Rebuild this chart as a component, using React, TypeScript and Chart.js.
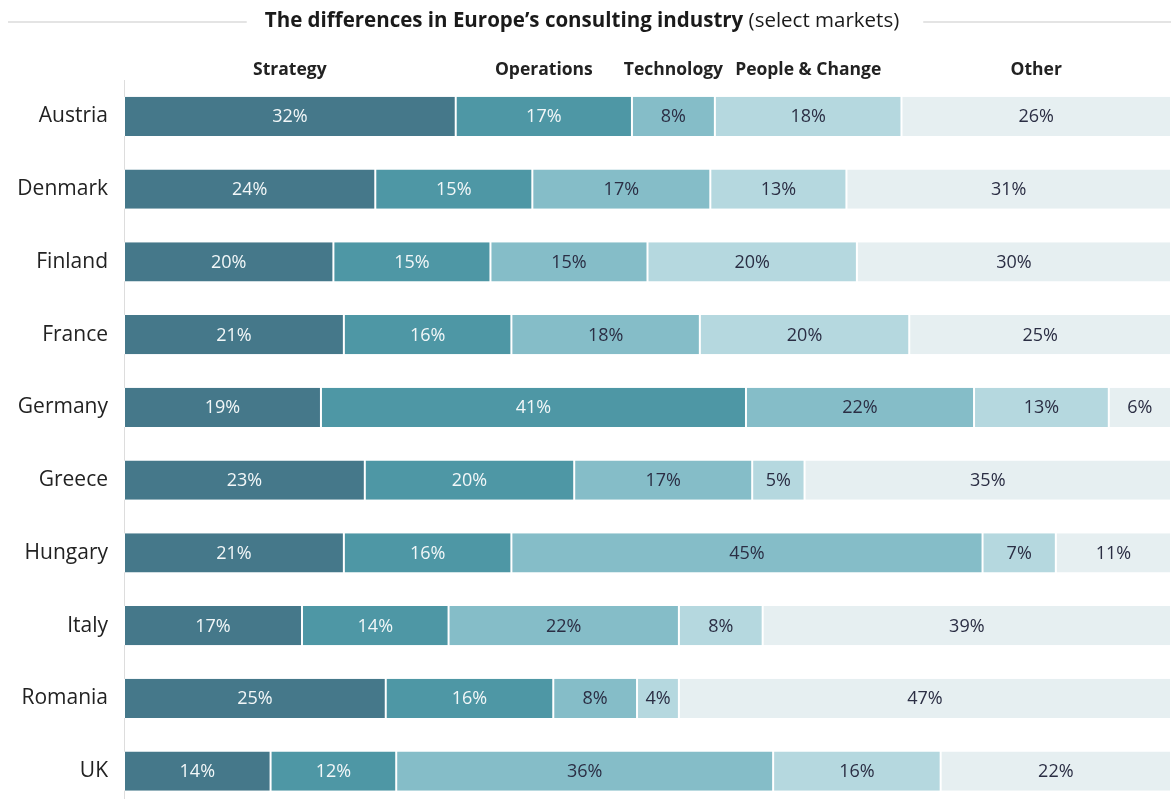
import React, { useEffect, useRef } from "react";
import { Chart, registerables } from "chart.js";

Chart.register(...registerables);

const categories = ["Austria", "Denmark", "Finland", "France", "Germany", "Greece", "Hungary", "Italy", "Romania", "UK"];
const seriesNames = ["Strategy", "Operations", "Technology", "People & Change", "Other"];
const strategy = [32, 24, 20, 21, 19, 23, 21, 17, 25, 14];
const operations = [17, 15, 15, 16, 41, 20, 16, 14, 16, 12];
const technology = [8, 17, 15, 18, 22, 17, 45, 22, 8, 36];
const peopleChange = [18, 13, 20, 20, 13, 5, 7, 8, 4, 16];
const other = [26, 31, 30, 25, 6, 35, 11, 39, 47, 22];
const titleBold = "The differences in Europe\u2019s consulting industry";
const titleNormal = " (select markets)";

const seriesValues = [strategy, operations, technology, peopleChange, other];
const colors = ["#45788a", "#4e97a5", "#85bdc8", "#b5d8df", "#e6eff1"];
const labelColors = ["#f2f7f8", "#f2f7f8", "#2b2e44", "#2b2e44", "#2b2e44"];
const FONT = "'Open Sans', sans-serif";

const overlayPlugin = {
  id: "overlay",
  afterDatasetsDraw(chart: any) {
    const ctx = chart.ctx;
    ctx.save();
    ctx.textBaseline = "middle";
    ctx.textAlign = "center";
    chart.data.datasets.forEach((ds: any, i: number) => {
      const meta = chart.getDatasetMeta(i);
      meta.data.forEach((el: any, j: number) => {
        const x = (el.x + el.base) / 2;
        ctx.fillStyle = labelColors[i];
        ctx.font = `400 18px ${FONT}`;
        ctx.fillText(ds.rawValues[j] + "%", x, el.y + 1);
      });
    });
    chart.data.datasets.forEach((ds: any, i: number) => {
      const el = chart.getDatasetMeta(i).data[0];
      const x = (el.x + el.base) / 2;
      ctx.fillStyle = "#222";
      ctx.font = `700 17.5px ${FONT}`;
      ctx.fillText(ds.label, x, 70);
    });
    const cx = 582;
    const ty = 21;
    ctx.font = `700 20.5px ${FONT}`;
    const wb = ctx.measureText(titleBold).width;
    ctx.font = `400 20.5px ${FONT}`;
    const wn = ctx.measureText(titleNormal).width;
    const start = cx - (wb + wn) / 2;
    ctx.textAlign = "left";
    ctx.fillStyle = "#1a1a1a";
    ctx.font = `700 20.5px ${FONT}`;
    ctx.fillText(titleBold, start, ty);
    ctx.font = `400 20.5px ${FONT}`;
    ctx.fillText(titleNormal, start + wb, ty);
    ctx.strokeStyle = "#dcdcdc";
    ctx.lineWidth = 1.5;
    ctx.beginPath();
    ctx.moveTo(8, ty + 1);
    ctx.lineTo(start - 18, ty + 1);
    ctx.moveTo(start + wb + wn + 24, ty + 1);
    ctx.lineTo(chart.width, ty + 1);
    ctx.stroke();
    ctx.restore();
  },
};

export default function App() {
  const ref = useRef<HTMLCanvasElement | null>(null);
  useEffect(() => {
    if (!ref.current) return;
    const totals = categories.map((_, j) => seriesValues.reduce((s, arr) => s + arr[j], 0));
    const chart = new Chart(ref.current, {
      type: "bar",
      data: {
        labels: categories,
        datasets: seriesNames.map((name, i) => ({
          label: name,
          data: seriesValues[i].map((v, j) => (v / totals[j]) * 100),
          rawValues: seriesValues[i],
          backgroundColor: colors[i],
          borderColor: "#ffffff",
          borderWidth: { left: 1, right: 1, top: 0, bottom: 0 },
          borderSkipped: false,
          barPercentage: 0.54,
          categoryPercentage: 1,
        })) as any,
      },
      options: {
        indexAxis: "y",
        animation: false,
        responsive: true,
        maintainAspectRatio: false,
        layout: { padding: { top: 80, bottom: 3, left: 0, right: 0 } },
        plugins: { legend: { display: false }, tooltip: { enabled: false }, title: { display: false } },
        scales: {
          x: { stacked: true, min: 0, max: 100, display: false },
          y: {
            stacked: true,
            grid: { display: false },
            border: { display: true, color: "#dddddd", width: 1 },
            ticks: { color: "#222", font: { family: FONT, size: 21 }, padding: 8 },
            afterFit: (s: any) => {
              s.width = 124;
            },
          },
        },
      },
      plugins: [overlayPlugin],
    });
    return () => chart.destroy();
  }, []);
  return (
    <div style={{ position: "fixed", left: 0, top: 0, width: 1171, height: 799, overflow: "hidden", background: "#fff" }}>
      <div style={{ position: "relative", width: 1171, height: 828 }}>
        <canvas ref={ref} />
      </div>
    </div>
  );
}
